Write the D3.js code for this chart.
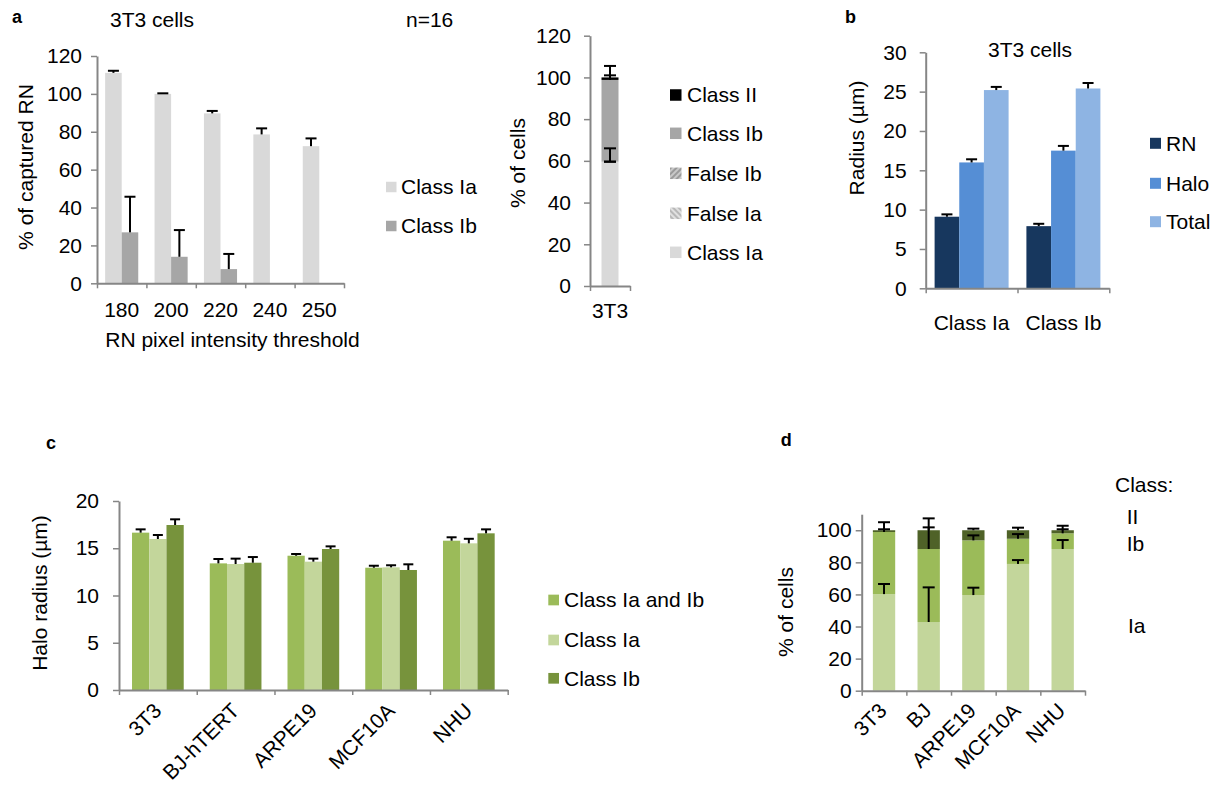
<!DOCTYPE html>
<html>
<head>
<meta charset="utf-8">
<script src="https://cdn.jsdelivr.net/npm/d3@7"></script>
<style>
  body { margin: 0; background: #fff; }
  svg text { font-family: "Liberation Sans", Arial, sans-serif; fill: #000; }
</style>
</head>
<body>
<svg id="fig" width="1223" height="791"></svg>
<script>
// ---------- Panel a (left): captured RN per intensity threshold ----------
const thresholds = ["180", "200", "220", "240", "250"];
const capturedIa = [111.1, 100.0, 89.7, 78.6, 72.4];
const capturedIaErr = [1.1, 0.3, 1.3, 3.2, 4.1];
const capturedIb = [26.9, 14.0, 7.5, null, null];
const capturedIbErr = [18.8, 14.1, 8.0, null, null];
const capturedTicks = [0, 20, 40, 60, 80, 100, 120];

// ---------- Panel a (right): 3T3 classification, stacked bottom -> top ----------
const classCells = ["3T3"];
const classKeys = ["Class Ia", "False Ia", "False Ib", "Class Ib", "Class II"];
const classValues = [59.6, 0, 0, 39.2, 1.2];
const classErr = [6.4, 0, 0, 2.2, 5.5];
const classLegend = ["Class II", "Class Ib", "False Ib", "False Ia", "Class Ia"];

// ---------- Panel b: radii in 3T3 cells ----------
const radiusCats = ["Class Ia", "Class Ib"];
const radiusKeys = ["RN", "Halo", "Total"];
const radiusRN = [9.1, 7.9];
const radiusRNErr = [0.3, 0.3];
const radiusHalo = [16.0, 17.5];
const radiusHaloErr = [0.4, 0.6];
const radiusTotal = [25.2, 25.4];
const radiusTotalErr = [0.4, 0.7];
const radiusTicks = [0, 5, 10, 15, 20, 25, 30];

// ---------- Panel c: halo radius per cell line ----------
const haloCells = ["3T3", "BJ-hTERT", "ARPE19", "MCF10A", "NHU"];
const haloKeys = ["Class Ia and Ib", "Class Ia", "Class Ib"];
const haloIaIb = [16.65, 13.40, 14.21, 12.94, 15.80];
const haloIaIbErr = [0.35, 0.46, 0.18, 0.21, 0.36];
const haloIa = [15.98, 13.33, 13.58, 12.98, 15.52];
const haloIaErr = [0.42, 0.57, 0.32, 0.22, 0.48];
const haloIb = [17.46, 13.47, 14.92, 12.70, 16.58];
const haloIbErr = [0.60, 0.60, 0.28, 0.60, 0.42];
const haloTicks = [0, 5, 10, 15, 20];

// ---------- Panel d: class fractions per cell line ----------
const fracCells = ["3T3", "BJ", "ARPE19", "MCF10A", "NHU"];
const fracKeys = ["Ia", "Ib", "II"];
const fracIa = [60.2, 42.8, 59.6, 79.0, 88.3];
const fracIaErr = [6.3, 21.6, 4.6, 2.4, 5.6];
const fracIb = [38.7, 45.5, 34.1, 15.7, 9.8];
const fracIbErr = [1.7, 13.5, 3.1, 2.9, 2.5];
const fracII = [1.1, 11.7, 6.3, 5.3, 1.9];
const fracIIErr = [5.0, 7.4, 1.0, 1.6, 2.8];
const fracTicks = [0, 20, 40, 60, 80, 100];

// ---------- styling ----------
const FONT = 21;
const AXIS = "#868686";
const svg = d3.select("#fig");

const defs = svg.append("defs");
function hatch(id, bg, fg, angle) {
  const p = defs.append("pattern").attr("id", id).attr("patternUnits", "userSpaceOnUse")
    .attr("width", 4).attr("height", 4).attr("patternTransform", `rotate(${angle})`);
  p.append("rect").attr("width", 4).attr("height", 4).attr("fill", bg);
  p.append("rect").attr("width", 2).attr("height", 4).attr("fill", fg);
}
hatch("hatchFalseIb", "#c8c8c8", "#9a9a9a", 45);
hatch("hatchFalseIa", "#e0e0e0", "#b8b8b8", -45);

function text(g, x, y, s, opts = {}) {
  const t = g.append("text").attr("x", x).attr("y", y).attr("font-size", opts.size || FONT).text(s);
  if (opts.anchor) t.attr("text-anchor", opts.anchor);
  if (opts.weight) t.attr("font-weight", opts.weight);
  if (opts.dy) t.attr("dy", opts.dy);
  return t;
}

function yAxis(g, y, x0, ticks, pad) {
  const a = g.append("g").attr("transform", `translate(${x0},0)`)
    .call(d3.axisLeft(y).tickValues(ticks).tickSize(6).tickSizeOuter(0).tickPadding(pad));
  a.attr("font-family", null).attr("font-size", null);
  a.select(".domain").attr("stroke", AXIS).attr("stroke-width", 2);
  a.selectAll(".tick line").attr("stroke", AXIS).attr("stroke-width", 1.5);
  a.selectAll(".tick text").attr("font-size", FONT).attr("fill", "#000");
}

function xAxis(g, x, y0) {
  const n = x.domain().length;
  const edges = d3.scaleLinear().domain([0, n]).range(x.range());
  const a = g.append("g").attr("transform", `translate(0,${y0})`)
    .call(d3.axisBottom(edges).tickValues(d3.range(n + 1)).tickSize(5).tickSizeOuter(0).tickFormat(""));
  a.select(".domain").attr("stroke", AXIS).attr("stroke-width", 2);
  a.selectAll(".tick line").attr("stroke", AXIS).attr("stroke-width", 1.5);
}

function yTitle(g, x, y, s) {
  g.append("text").attr("transform", `translate(${x},${y}) rotate(-90)`)
    .attr("text-anchor", "middle").attr("font-size", FONT).text(s);
}

function errBar(g, cx, yFrom, yTo, cap) {
  g.append("line").attr("x1", cx).attr("x2", cx).attr("y1", yFrom).attr("y2", yTo)
    .attr("stroke", "#000").attr("stroke-width", 2);
  g.append("line").attr("x1", cx - cap / 2).attr("x2", cx + cap / 2).attr("y1", yTo).attr("y2", yTo)
    .attr("stroke", "#000").attr("stroke-width", 2);
}

function legend(g, items, x, ys, sw, gap) {
  items.forEach((it, i) => {
    g.append("rect").attr("x", x).attr("y", ys[i] - sw / 2).attr("width", sw).attr("height", sw).attr("fill", it.fill);
    text(g, x + sw + gap, ys[i], it.label, { dy: "0.35em" });
  });
}

function grouped(g, cats, series, x0, y, cap) {
  const x1 = d3.scaleBand().domain(series.map(s => s.key)).range([0, x0.bandwidth()]);
  series.forEach(s => {
    cats.forEach((c, i) => {
      const v = s.values[i];
      if (v == null) return;
      const bx = x0(c) + x1(s.key);
      g.append("rect").attr("x", bx).attr("y", y(v)).attr("width", x1.bandwidth())
        .attr("height", y(0) - y(v)).attr("fill", s.fill);
    });
  });
  series.forEach(s => {
    cats.forEach((c, i) => {
      const v = s.values[i];
      if (v == null || s.err[i] == null) return;
      const cx = x0(c) + x1(s.key) + x1.bandwidth() / 2;
      errBar(g, cx, y(v), y(v + s.err[i]), cap);
    });
  });
}

function stacked(g, rows, keys, fills, errs, x, y, cap) {
  const layers = d3.stack().keys(keys)(rows);
  layers.forEach((layer, k) => {
    layer.forEach(d => {
      if (d[1] - d[0] <= 0) return;
      g.append("rect").attr("x", x(d.data.cell)).attr("y", y(d[1])).attr("width", x.bandwidth())
        .attr("height", y(d[0]) - y(d[1])).attr("fill", fills[k]);
    });
  });
  layers.forEach((layer, k) => {
    layer.forEach((d, i) => {
      const cx = x(d.data.cell) + x.bandwidth() / 2;
      errBar(g, cx, y(d[1]), y(d[1] + errs[k][i]), cap);
    });
  });
}

function band(cats, range, p) {
  return d3.scaleBand().domain(cats).range(range).paddingInner(p).paddingOuter(p / 2);
}

// ================= Panel a (left) =================
{
  const g = svg.append("g");
  const x = band(thresholds, [97, 344], 0.33);
  const y = d3.scaleLinear().domain([0, 120]).range([283.3, 56]);
  grouped(g, thresholds, [
    { key: "Class Ia", values: capturedIa, err: capturedIaErr, fill: "#d9d9d9" },
    { key: "Class Ib", values: capturedIb, err: capturedIbErr, fill: "#a6a6a6" }
  ], x, y, 11);
  yAxis(g, y, 97, capturedTicks, 9);
  xAxis(g, x, 283.3);
  thresholds.forEach(c => text(g, x(c) + x.bandwidth() / 2, 316.7, c, { anchor: "middle" }));
  text(g, 232.5, 346.7, "RN pixel intensity threshold", { anchor: "middle" });
  yTitle(g, 33, 167, "% of captured RN");
  text(g, 12, 22.7, "a", { weight: "bold", size: 18 });
  text(g, 110, 26.7, "3T3 cells");
  text(g, 406, 26.7, "n=16");
  legend(g, [{ label: "Class Ia", fill: "#d9d9d9" }, { label: "Class Ib", fill: "#a6a6a6" }],
    386, [187, 226], 10.5, 4.5);
}

// ================= Panel a (right) =================
{
  const g = svg.append("g");
  const x = band(classCells, [590, 630], 0.575);
  const y = d3.scaleLinear().domain([0, 120]).range([286, 35.7]);
  const fillMap = {
    "Class Ia": "#d9d9d9", "False Ia": "url(#hatchFalseIa)", "False Ib": "url(#hatchFalseIb)",
    "Class Ib": "#a6a6a6", "Class II": "#000000"
  };
  const row = { cell: "3T3" };
  classKeys.forEach((k, i) => row[k] = classValues[i]);
  stacked(g, [row], classKeys, classKeys.map(k => fillMap[k]), classErr.map(e => [e]), x, y, 12);
  yAxis(g, y, 590, capturedTicks, 13);
  xAxis(g, x, 286);
  text(g, x("3T3") + x.bandwidth() / 2, 317.7, "3T3", { anchor: "middle" });
  yTitle(g, 525, 163, "% of cells");
  legend(g, classLegend.map(k => ({ label: k, fill: fillMap[k] })), 670,
    [95, 133.3, 173.3, 213.3, 252.3], 11.5, 5.5);
}

// ================= Panel b =================
{
  const g = svg.append("g");
  const x = band(radiusCats, [925.7, 1109.3], 0.194);
  const y = d3.scaleLinear().domain([0, 30]).range([288.3, 52.3]);
  grouped(g, radiusCats, [
    { key: "RN", values: radiusRN, err: radiusRNErr, fill: "#17375e" },
    { key: "Halo", values: radiusHalo, err: radiusHaloErr, fill: "#558ed5" },
    { key: "Total", values: radiusTotal, err: radiusTotalErr, fill: "#8eb4e3" }
  ], x, y, 11);
  yAxis(g, y, 925.7, radiusTicks, 13);
  xAxis(g, x, 288.3);
  radiusCats.forEach(c => text(g, x(c) + x.bandwidth() / 2, 330, c, { anchor: "middle" }));
  yTitle(g, 864, 138, "Radius (µm)");
  text(g, 845, 23.3, "b", { weight: "bold", size: 18 });
  text(g, 1030, 56.7, "3T3 cells", { anchor: "middle" });
  legend(g, [
    { label: "RN", fill: "#17375e" }, { label: "Halo", fill: "#558ed5" }, { label: "Total", fill: "#8eb4e3" }
  ], 1150, [143.3, 183.3, 221.7], 11, 5);
}

// ================= Panel c =================
{
  const g = svg.append("g");
  const x = band(haloCells, [119, 507.7], 0.335);
  const y = d3.scaleLinear().domain([0, 20]).range([690, 501]);
  grouped(g, haloCells, [
    { key: "Class Ia and Ib", values: haloIaIb, err: haloIaIbErr, fill: "#9bbb59" },
    { key: "Class Ia", values: haloIa, err: haloIaErr, fill: "#c3d69b" },
    { key: "Class Ib", values: haloIb, err: haloIbErr, fill: "#77933c" }
  ], x, y, 10);
  yAxis(g, y, 119, haloTicks, 14);
  xAxis(g, x, 690);
  haloCells.forEach(c => {
    g.append("text").attr("transform", `translate(${x(c) + x.bandwidth() / 2 + 5},${712}) rotate(-45)`)
      .attr("text-anchor", "end").attr("font-size", FONT).text(c);
  });
  yTitle(g, 47, 593, "Halo radius (µm)");
  text(g, 46, 449, "c", { weight: "bold", size: 18 });
  legend(g, [
    { label: "Class Ia and Ib", fill: "#9bbb59" }, { label: "Class Ia", fill: "#c3d69b" },
    { label: "Class Ib", fill: "#77933c" }
  ], 548.3, [600, 640, 678.3], 10.7, 5);
}

// ================= Panel d =================
{
  const g = svg.append("g");
  const x = band(fracCells, [861.7, 1085], 0.5);
  const y = d3.scaleLinear().domain([0, 110]).range([690.7, 514.2]);
  const rows = fracCells.map((c, i) => ({ cell: c, Ia: fracIa[i], Ib: fracIb[i], II: fracII[i] }));
  stacked(g, rows, fracKeys, ["#c3d69b", "#9bbb59", "#4f6228"], [fracIaErr, fracIbErr, fracIIErr], x, y, 12);
  yAxis(g, y, 861.7, fracTicks, 4);
  xAxis(g, x, 690.7);
  fracCells.forEach(c => {
    g.append("text").attr("transform", `translate(${x(c) + x.bandwidth() / 2 + 4},${712}) rotate(-45)`)
      .attr("text-anchor", "end").attr("font-size", FONT).text(c);
  });
  yTitle(g, 793, 612, "% of cells");
  text(g, 780.7, 445.7, "d", { weight: "bold", size: 18 });
  text(g, 1115, 491.7, "Class:");
  text(g, 1126.7, 524, "II");
  text(g, 1126.7, 550.7, "Ib");
  text(g, 1128, 632.7, "Ia");
}
</script>
</body>
</html>
